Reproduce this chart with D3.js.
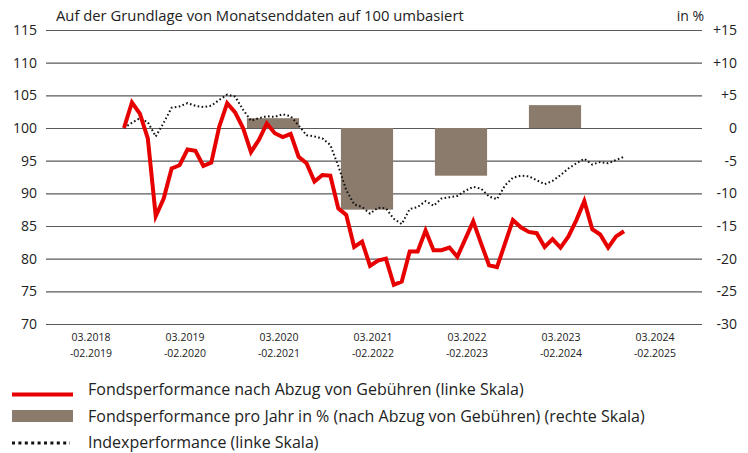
<!DOCTYPE html>
<html>
<head>
<meta charset="utf-8">
<script src="https://cdn.jsdelivr.net/npm/d3@7"></script>
<style>
    body { margin: 0; background: #fff; }
    svg text { font-family: "Open Sans", "Noto Sans", sans-serif; fill: #222; }
</style>
</head>
<body>
<svg id="chart" width="748" height="453"></svg>
<script>
// categories (fiscal years) and yearly fund performance in % (right scale)
var periods = ["03.2018|-02.2019", "03.2019|-02.2020", "03.2020|-02.2021", "03.2021|-02.2022",
               "03.2022|-02.2023", "03.2023|-02.2024", "03.2024|-02.2025"];
var yearly = [null, null, 1.5, -12.5, -7.3, 3.5, null];

// monthly values, rebased to 100 (left scale)
var fund = [100, 103.9, 102.2, 98.4, 86.5, 89.2, 93.8, 94.3, 96.7, 96.5, 94.2, 94.7,
            100.2, 103.8, 102.4, 100, 96.3, 98.2, 100.7, 99.2, 98.6, 99.1, 95.6, 94.6,
            91.8, 92.8, 92.7, 87.7, 86.7, 81.8, 82.6, 78.9, 79.7, 80.0, 76.0, 76.5,
            81.1, 81.1, 84.3, 81.3, 81.3, 81.7, 80.3, 83.0, 85.7, 82.3, 79.0, 78.7,
            82.3, 85.9, 84.8, 84.1, 83.9, 81.8, 83.0, 81.7, 83.4, 85.9, 88.8, 84.5,
            83.7, 81.7, 83.4, 84.2];
var index = [100, 100.8, 101.5, 100.9, 98.7, 100.8, 103.1, 103.3, 103.8, 103.4, 103.2, 103.4,
             104.3, 105.1, 104.8, 102.8, 101.1, 101.5, 101.8, 101.7, 102.1, 101.8, 100.4, 98.9,
             98.7, 98.4, 97.4, 94.2, 90.5, 88.3, 87.9, 86.9, 87.8, 87.7, 86.1, 85.3,
             87.6, 87.9, 88.8, 88.1, 89.2, 89.4, 89.6, 90.4, 91.0, 90.7, 89.5, 89.1,
             91.2, 92.4, 92.7, 92.6, 92.0, 91.4, 91.9, 92.8, 93.8, 94.6, 95.3, 94.4,
             94.8, 94.6, 95.1, 95.6];

var leftTicks = [70, 75, 80, 85, 90, 95, 100, 105, 110, 115];
var rightTicks = [-30, -25, -20, -15, -10, -5, 0, 5, 10, 15];

var legendItems = ["Fondsperformance nach Abzug von Gebühren (linke Skala)",
                   "Fondsperformance pro Jahr in % (nach Abzug von Gebühren) (rechte Skala)",
                   "Indexperformance (linke Skala)"];

var RED = "#e60000", BROWN = "#8b7b6d";
var svg = d3.select("#chart");

var yLeft = d3.scaleLinear().domain([70, 115]).range([324, 30]);
var yRight = d3.scaleLinear().domain([-30, 15]).range([324, 30]);
var xBand = d3.scaleBand().domain(periods).range([38, 696]).paddingInner(0.445).paddingOuter(0.2225);
var xMonth = d3.scaleLinear().domain([0, fund.length - 1]).range([124, 624]);

// gridlines
svg.append("g")
    .attr("transform", "translate(46,0)")
    .call(d3.axisLeft(yLeft).tickValues(leftTicks).tickSize(-656).tickFormat(""))
    .call(g => g.select(".domain").remove())
    .call(g => g.selectAll("line").attr("stroke", "#5a5a5a").attr("stroke-width", 1.2));

// left / right tick labels
svg.append("g").selectAll("text").data(leftTicks).join("text")
    .attr("x", 37).attr("y", d => yLeft(d) + 5)
    .attr("text-anchor", "end").attr("font-size", 14)
    .text(d => d);

svg.append("g").selectAll("text").data(rightTicks).join("text")
    .attr("x", 737).attr("y", d => yRight(d) + 5)
    .attr("text-anchor", "end").attr("font-size", 14)
    .text(d => d > 0 ? "+" + d : d);

// header texts
svg.append("text").attr("x", 56).attr("y", 21).attr("font-size", 14.8)
    .text("Auf der Grundlage von Monatsenddaten auf 100 umbasiert");
svg.append("text").attr("x", 704).attr("y", 21).attr("font-size", 14).attr("text-anchor", "end")
    .text("in %");

// yearly bars
svg.append("g").selectAll("rect")
    .data(periods.map((p, i) => ({p: p, v: yearly[i]})).filter(d => d.v !== null))
    .join("rect")
    .attr("x", d => xBand(d.p))
    .attr("width", xBand.bandwidth())
    .attr("y", d => yRight(Math.max(0, d.v)))
    .attr("height", d => Math.abs(yRight(d.v) - yRight(0)))
    .attr("fill", BROWN);

// x labels (two lines)
var xl = svg.append("g").selectAll("text").data(periods).join("text")
    .attr("text-anchor", "middle").attr("font-size", 10.5);
xl.append("tspan").attr("x", d => xBand(d) + xBand.bandwidth() / 2 + 6).attr("y", 341)
    .text(d => d.split("|")[0]);
xl.append("tspan").attr("x", d => xBand(d) + xBand.bandwidth() / 2 + 6).attr("y", 357)
    .text(d => d.split("|")[1]);

// lines
var line = d3.line().x((d, i) => xMonth(i)).y(d => yLeft(d));

svg.append("path").datum(index)
    .attr("d", line).attr("fill", "none")
    .attr("stroke", "#111").attr("stroke-width", 2).attr("stroke-dasharray", "1.6,2.4");

svg.append("path").datum(fund)
    .attr("d", line).attr("fill", "none")
    .attr("stroke", RED).attr("stroke-width", 4).attr("stroke-linejoin", "miter");

// legend
var lg = svg.append("g");
lg.append("line").attr("x1", 12).attr("x2", 73).attr("y1", 394.5).attr("y2", 394.5)
    .attr("stroke", RED).attr("stroke-width", 4);
lg.append("rect").attr("x", 12).attr("y", 410).attr("width", 61).attr("height", 12).attr("fill", BROWN);
lg.append("line").attr("x1", 12).attr("x2", 70).attr("y1", 443).attr("y2", 443)
    .attr("stroke", "#111").attr("stroke-width", 3).attr("stroke-dasharray", "3,3.4");
lg.selectAll("text").data(legendItems).join("text")
    .attr("x", 88).attr("y", (d, i) => [395, 421.5, 447.5][i])
    .attr("font-size", 16)
    .text(d => d);
</script>
</body>
</html>
